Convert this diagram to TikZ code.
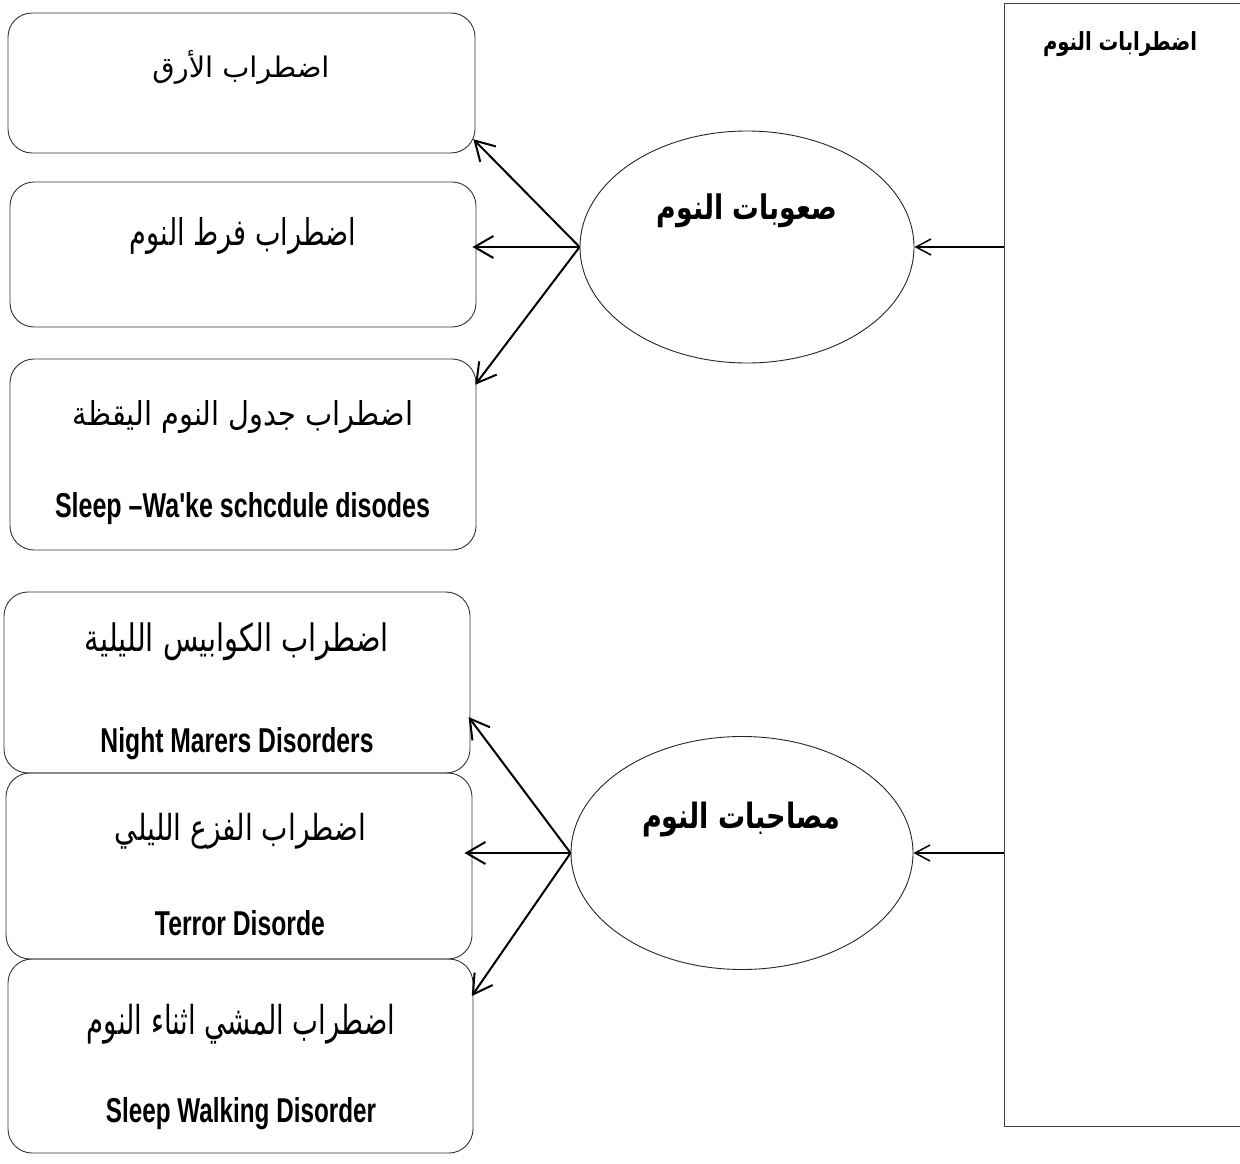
\documentclass[tikz,border=0pt]{standalone}
\usepackage{fontspec}
\usepackage{graphicx}
\usetikzlibrary{arrows.meta,shapes.geometric,calc}
\TeXXeTstate=1
\newfontfamily\arabicfont[Script=Arabic]{DejaVu Sans}
\newfontfamily\engfont{Liberation Sans}
\newcommand{\artxt}[3]{\resizebox*{#1pt}{#2pt}{\arabicfont #3}}
\newcommand{\arbold}[3]{\resizebox*{#1pt}{#2pt}{\arabicfont\bfseries #3}}
\newcommand{\entxt}[3]{\resizebox{#1pt}{#2pt}{\engfont\bfseries #3}}
\tikzset{
  box/.style={draw=black!80, line width=0.9pt, rounded corners=24pt, inner sep=0pt},
  oval/.style={draw=black!85, line width=0.9pt, ellipse, inner sep=0pt},
  mainbox/.style={draw=black!75, line width=1.3pt, inner sep=0pt},
  txt/.style={inner sep=0pt, outer sep=0pt},
  bigarrow/.style={-{Straight Barb[length=19pt,width=22pt]}, line width=2pt},
  smallarrow/.style={-{Straight Barb[length=15pt,width=16pt]}, line width=1.5pt},
}
\begin{document}
\begin{tikzpicture}[x=1pt,y=-1pt]
\useasboundingbox (0,0) rectangle (1240,1164);
\clip (0,0) rectangle (1240,1164);
\fill[white] (0,0) rectangle (1240,1164);

% boxes
\node[box, minimum width=467pt, minimum height=140pt] (b1) at (241.5,83) {};
\node[box, minimum width=466pt, minimum height=145pt] (b2) at (243,254.5) {};
\node[box, minimum width=466pt, minimum height=191pt] (b3) at (243,454.5) {};
\node[box, minimum width=466pt, minimum height=181pt] (b4) at (237,682.5) {};
\node[box, minimum width=466pt, minimum height=186pt] (b5) at (239,866) {};
\node[box, minimum width=465pt, minimum height=194pt] (b6) at (240.5,1056) {};

% ellipses
\node[oval, minimum width=334pt, minimum height=232pt] (e1) at (747,247) {};
\node[oval, minimum width=342pt, minimum height=233pt] (e2) at (742,853) {};

% main rectangle
\node[mainbox, anchor=north west, minimum width=260pt, minimum height=1123pt] (main) at (1004,3) {};

% texts
\node[txt] (t1) at (241,67) {\artxt{177}{34}{\beginR اضطراب الأرق\endR}};
\node[txt] (t2) at (243,236) {\artxt{226}{37}{\beginR اضطراب فرط النوم\endR}};
\node[txt] (t3) at (243,417) {\artxt{340}{33}{\beginR اضطراب جدول النوم اليقظة\endR}};
\node[txt, anchor=base] (s3) at (242.5,517) {\entxt{375}{25}{Sleep –Wa'ke schcdule disodes}};
\node[txt] (t4) at (237,642) {\artxt{304}{38}{\beginR اضطراب الكوابيس الليلية\endR}};
\node[txt, anchor=base] (s4) at (237,752) {\entxt{273}{25}{Night Marers Disorders}};
\node[txt] (t5) at (240.5,831) {\artxt{251}{36}{\beginR اضطراب الفزع الليلي\endR}};
\node[txt, anchor=base] (s5) at (240,935) {\entxt{170}{25}{Terror Disorde}};
\node[txt] (t6) at (241,1024) {\artxt{308}{40}{\beginR اضطراب المشي اثناء النوم\endR}};
\node[txt, anchor=base] (s6) at (241,1122) {\entxt{270}{25}{Sleep Walking Disorder}};

\node[txt] (te1) at (747,211) {\arbold{180}{34}{\beginR صعوبات النوم\endR}};
\node[txt] (te2) at (741,820) {\arbold{198}{35}{\beginR مصاحبات النوم\endR}};
\node[txt] (tm) at (1120,44) {\arbold{154}{25}{\beginR اضطرابات النوم\endR}};

% connectors
\draw[smallarrow] (main.west |- e1.east) -- (e1.east);
\draw[smallarrow] (main.west |- e2.east) -- (e2.east);

\draw[bigarrow, shorten >=-3pt] (e1.west) -- (b1.-14);
\draw[bigarrow, shorten >=-4pt] (e1.west) -- (e1.west -| b2.east);
\draw[bigarrow, shorten >=-2pt] (e1.west) -- (b3.17);

\draw[bigarrow, shorten >=-3pt] (e2.west) -- (b4.-9.5);
\draw[bigarrow, shorten >=-8pt] (e2.west) -- (e2.west -| b5.east);
\draw[bigarrow, shorten >=-3pt] (e2.west) -- (b6.15.5);
\end{tikzpicture}
\end{document}
